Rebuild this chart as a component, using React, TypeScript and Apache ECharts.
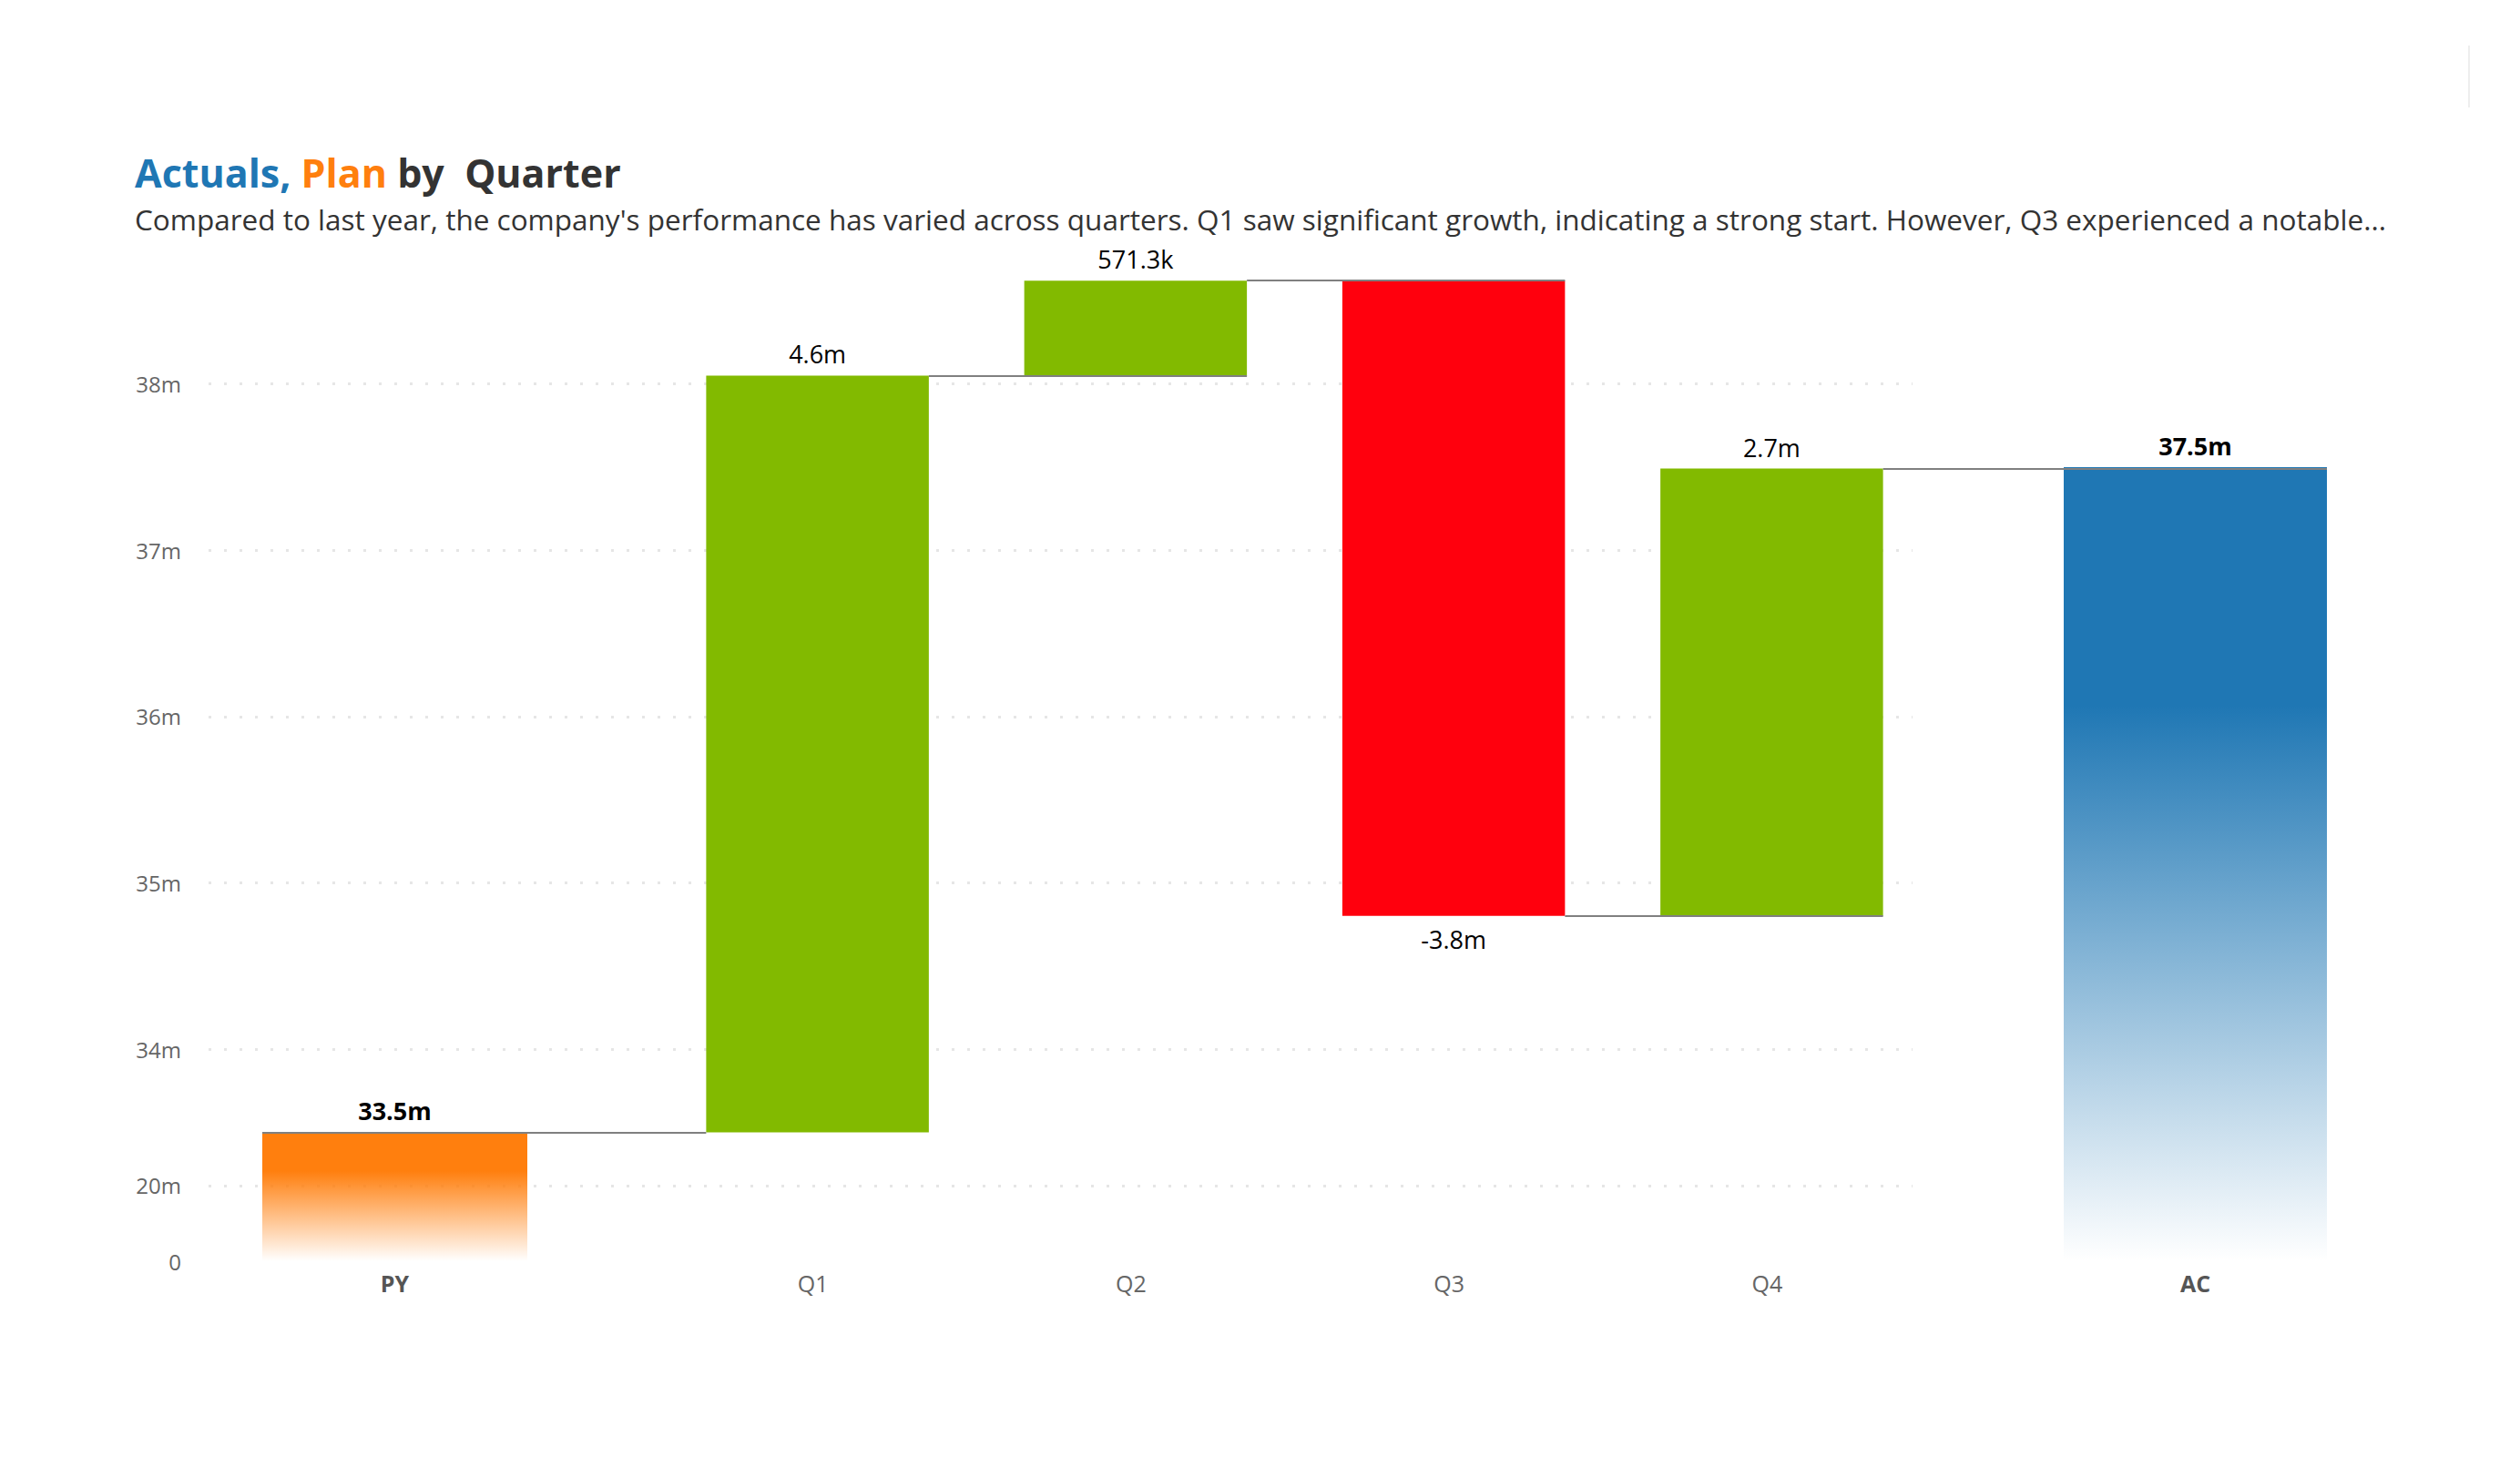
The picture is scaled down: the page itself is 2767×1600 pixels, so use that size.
import React, { useEffect, useRef } from "react";
import * as echarts from "echarts";

// ---------- data ----------
const categories = ["PY", "Q1", "Q2", "Q3", "Q4", "AC"];
const previousYear = 33.5e6;
const quarterDeltas = [4.55e6, 0.5713e6, -3.82e6, 2.69e6];
const actual = 37.5e6;
const yTickLabels = ["0", "20m", "34m", "35m", "36m", "37m", "38m"];
const yTickValues = [32.725e6, 33.18e6, 34e6, 35e6, 36e6, 37e6, 38e6];
const gridLineValues = [33.18e6, 34e6, 35e6, 36e6, 37e6, 38e6];
const titleParts = ["Actuals,", "Plan", "by  Quarter"];
const subtitle =
  "Compared to last year, the company's performance has varied across quarters. Q1 saw significant growth, indicating a strong start. However, Q3 experienced a notable...";

// ---------- layout / style ----------
const W = 2767;
const H = 1600;
const FONT = "'Open Sans', 'Noto Sans', sans-serif";
const Y_MIN = 32.725e6;
const Y_MAX = 38.666e6;
const TOP = 300;
const BOTTOM = 215;
const MAIN = { left: 229, width: 1871 };
const PYG = { left: 288, width: 291 };
const QG = { left: 723, width: 1397 };
const ACG = { left: 2266, width: 289 };
const Q_BAR_RATIO = 0.7;
const GREEN = "#82BA00";
const RED = "#FF000D";
const ORANGE = "#FF7F0E";
const BLUE = "#1F77B4";

function fmt(v: number): string {
  const a = Math.abs(v);
  if (a >= 1e6) return (Math.round(v / 1e5) / 10).toFixed(1) + "m";
  return (v / 1e3).toFixed(1) + "k";
}

function fade(color: string, rgb: string) {
  return new echarts.graphic.LinearGradient(0, 0, 0, 1, [
    { offset: 0, color },
    { offset: 0.3, color },
    { offset: 1, color: `rgba(${rgb},0.0)` },
  ]);
}

function buildOption() {
  // running totals
  const totals: number[] = [previousYear];
  quarterDeltas.forEach((d) => totals.push(totals[totals.length - 1] + d));
  const bases = quarterDeltas.map((d, i) => (d >= 0 ? totals[i] : totals[i] + d));

  const slot = QG.width / quarterDeltas.length;
  const qLeft = (i: number) => QG.left + slot * (i + 0.5) - (slot * Q_BAR_RATIO) / 2;
  const qRight = (i: number) => QG.left + slot * (i + 0.5) + (slot * Q_BAR_RATIO) / 2;

  const connectors: any[] = [];
  connectors.push([
    { x: PYG.left, yAxis: totals[0] },
    { x: qLeft(0), yAxis: totals[0] },
  ]);
  for (let i = 1; i < quarterDeltas.length; i++) {
    connectors.push([
      { x: qRight(i - 1), yAxis: totals[i] },
      { x: qRight(i), yAxis: totals[i] },
    ]);
  }
  connectors.push([
    { x: qRight(quarterDeltas.length - 1), yAxis: totals[quarterDeltas.length] },
    { x: ACG.left + ACG.width, yAxis: totals[quarterDeltas.length] },
  ]);

  const grid = (g: { left: number; width: number }) => ({
    left: g.left,
    width: g.width,
    top: TOP,
    bottom: BOTTOM,
    containLabel: false,
  });

  const hiddenY = (idx: number) => ({
    type: "value",
    gridIndex: idx,
    min: Y_MIN,
    max: Y_MAX,
    show: false,
    splitLine: { show: false },
  });

  const xLabel = (bold: boolean) => ({
    show: true,
    margin: 11,
    fontSize: 25,
    fontFamily: FONT,
    fontWeight: bold ? "bold" : "normal",
    color: bold ? "#555" : "#666",
  });

  const xAxisBase = {
    type: "category",
    axisLine: { show: false },
    axisTick: { show: false },
    splitLine: { show: false },
  };

  return {
    animation: false,
    backgroundColor: "#ffffff",
    textStyle: { fontFamily: FONT },
    grid: [grid(MAIN), grid(PYG), grid(QG), grid(ACG)],
    xAxis: [
      { ...xAxisBase, gridIndex: 0, data: ["_"], show: false },
      { ...xAxisBase, gridIndex: 1, data: [categories[0]], axisLabel: xLabel(true) },
      {
        ...xAxisBase,
        gridIndex: 2,
        data: categories.slice(1, 5),
        axisLabel: { ...xLabel(false), padding: [0, 10, 0, 0] },
      },
      { ...xAxisBase, gridIndex: 3, data: [categories[5]], axisLabel: xLabel(true) },
    ],
    yAxis: [
      {
        type: "value",
        gridIndex: 0,
        min: Y_MIN,
        max: Y_MAX,
        axisLine: { show: false },
        axisTick: { show: false },
        splitLine: { show: false },
        axisLabel: {
          customValues: yTickValues,
          margin: 30,
          fontSize: 24,
          color: "#666",
          fontFamily: FONT,
          formatter: (v: number) => {
            let best = 0;
            yTickValues.forEach((t, i) => {
              if (Math.abs(t - v) < Math.abs(yTickValues[best] - v)) best = i;
            });
            return yTickLabels[best];
          },
        },
      },
      hiddenY(1),
      hiddenY(2),
      hiddenY(3),
    ],
    series: [
      {
        type: "line",
        xAxisIndex: 0,
        yAxisIndex: 0,
        data: [],
        silent: true,
        markLine: {
          silent: true,
          z: 1,
          symbol: ["none", "none"],
          label: { show: false },
          lineStyle: { color: "#e6e6e6", width: 3, type: [3, 14] },
          data: gridLineValues.map((v) => ({ yAxis: v })),
        },
      },
      {
        type: "bar",
        xAxisIndex: 1,
        yAxisIndex: 1,
        barWidth: "100%",
        z: 2,
        data: [previousYear],
        itemStyle: { color: fade(ORANGE, "255,127,14") },
        label: {
          show: true,
          position: "top",
          distance: 10,
          fontSize: 27,
          fontWeight: "bold",
          color: "#000",
          fontFamily: FONT,
          formatter: () => fmt(previousYear),
        },
      },
      {
        type: "bar",
        xAxisIndex: 2,
        yAxisIndex: 2,
        stack: "wf",
        barWidth: Q_BAR_RATIO * 100 + "%",
        silent: true,
        z: 2,
        itemStyle: { color: "rgba(0,0,0,0)" },
        data: bases,
      },
      {
        type: "bar",
        xAxisIndex: 2,
        yAxisIndex: 2,
        stack: "wf",
        barWidth: Q_BAR_RATIO * 100 + "%",
        z: 2,
        data: quarterDeltas.map((d) => ({
          value: Math.abs(d),
          itemStyle: { color: d >= 0 ? GREEN : RED },
          label: { position: d >= 0 ? "top" : "bottom", distance: d >= 0 ? 10 : 12 },
        })),
        label: {
          show: true,
          distance: 10,
          fontSize: 27,
          color: "#000",
          fontFamily: FONT,
          formatter: (p: any) => fmt(quarterDeltas[p.dataIndex]),
        },
      },
      {
        type: "bar",
        xAxisIndex: 3,
        yAxisIndex: 3,
        barWidth: "100%",
        z: 2,
        data: [actual],
        itemStyle: { color: fade(BLUE, "31,119,180") },
        label: {
          show: true,
          position: "top",
          distance: 10,
          fontSize: 27,
          fontWeight: "bold",
          color: "#000",
          fontFamily: FONT,
          formatter: () => fmt(actual),
        },
      },
      {
        type: "line",
        xAxisIndex: 0,
        yAxisIndex: 0,
        data: [],
        silent: true,
        z: 5,
        markLine: {
          silent: true,
          z: 5,
          symbol: ["none", "none"],
          label: { show: false },
          lineStyle: { color: "#808080", width: 2, type: "solid" },
          data: connectors,
        },
      },
    ],
    graphic: [
      {
        type: "text",
        x: 148,
        y: 189,
        style: {
          text: `{a|${titleParts[0]}} {b|${titleParts[1]}} {c|${titleParts[2]}}`,
          verticalAlign: "middle",
          fontFamily: FONT,
          fontSize: 43,
          fontWeight: "bold",
          rich: {
            a: { fill: BLUE, fontSize: 43, fontWeight: "bold", fontFamily: FONT },
            b: { fill: ORANGE, fontSize: 43, fontWeight: "bold", fontFamily: FONT },
            c: { fill: "#333", fontSize: 43, fontWeight: "bold", fontFamily: FONT },
          },
        },
      },
      {
        type: "text",
        x: 148,
        y: 240,
        style: {
          text: subtitle,
          verticalAlign: "middle",
          fontFamily: FONT,
          fontSize: 31.5,
          fill: "#333",
        },
      },
      {
        type: "line",
        shape: { x1: 2711, y1: 50, x2: 2711, y2: 118 },
        style: { stroke: "#eeeeee", lineWidth: 2 },
      },
    ],
  };
}

export default function App() {
  const ref = useRef<HTMLDivElement>(null);
  useEffect(() => {
    if (!ref.current) return;
    const chart = echarts.init(ref.current, undefined, { renderer: "svg" });
    chart.setOption(buildOption() as any);
    return () => chart.dispose();
  }, []);
  return (
    <div
      ref={ref}
      style={{ position: "fixed", left: 0, top: 0, width: W, height: H, background: "#fff" }}
    />
  );
}
